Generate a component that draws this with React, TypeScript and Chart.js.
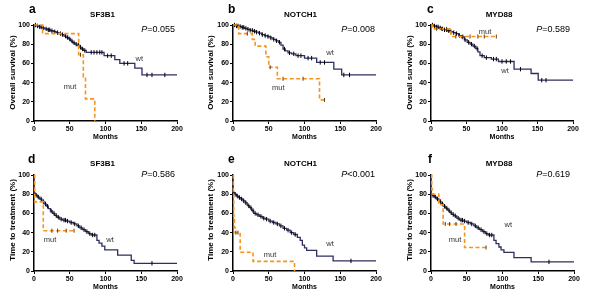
import React, { useEffect, useRef } from "react";
import { Chart, registerables } from "chart.js";
Chart.register(...registerables);

type KM = [number, number][];

const FONT = '"Liberation Sans", Arial, Helvetica, sans-serif';

const xTicks = [0, 50, 100, 150, 200];
const yTicks = [0, 20, 40, 60, 80, 100];

// ---- a: Overall survival, SF3B1 ----
const aWt: KM = [[0,100],[3,99],[7,98],[11,97],[15,96],[19,95],[23,94],[27,93],[31,92],[35,91],[39,90],[42,88.5],[45,87],[48,85.5],[51,83.5],[54,81.5],[57,80],[60,79],[63,77],[66,75],[69,73.5],[73,71.5],[98,68],[113,64],[120,60],[141,55],[151,48],[200,48]];
const aWtCensor = [2,5,8,10,13,17,20,22,25,29,33,37,40,44,47,50,53,56,59,62,65,68,71,80,84,88,92,95,103,108,126,131,158,165,183];
const aMut: KM = [[0,100],[12,91],[62.5,69],[69,46],[72,23],[85,0]];
const aMutCensor = [65];

// ---- b: Overall survival, NOTCH1 ----
const bWt: KM = [[0,100],[4,99],[8,98.5],[12,97.5],[16,96.5],[20,95.5],[24,94.5],[28,93.5],[32,92.5],[36,91.5],[40,90],[44,89],[48,88],[52,86.5],[56,85],[60,83.5],[64,82],[67,79],[70,75],[73,73],[77,71],[82,70],[88,68],[100,65.5],[117,61],[141,54],[152,48],[200,48]];
const bWtCensor = [2,5,7,10,13,15,18,21,24,27,30,33,37,41,45,49,53,57,61,65,72,79,85,91,95,105,110,122,128,155,163];
const bMut: KM = [[0,100],[8,91],[27,85],[31,78],[46,67],[50,56],[62,44],[121,22],[128,22]];
const bMutCensor = [20,52,70,98,128];

// ---- c: Overall survival, MYD88 ----
const cWt: KM = [[0,100],[3,99],[7,98],[11,97],[15,96],[19,95],[23,94],[27,93],[31,92],[35,91],[39,89],[43,87.5],[47,84.5],[51,82],[55,80],[59,78],[63,75.5],[66,72],[69,68],[75,66],[85,64.5],[95,62],[117,54],[141,49.5],[151,42.5],[200,42.5]];
const cWtCensor = [2,5,8,10,13,16,19,22,25,28,32,36,40,44,48,53,57,61,65,72,78,88,92,100,106,112,126,156,162];
const cMut: KM = [[0,100],[2,96],[28,88],[92,88]];
const cMutCensor = [8,15,22,35,45,55,66,75,92];

// ---- d: Time to treatment, SF3B1 ----
const dWt: KM = [[0,100],[0,81],[2,79],[5,77],[8,75],[11,72.5],[14,70],[17,67.5],[20,65],[23,62.5],[26,60],[29,58],[32,56],[36,54],[40,53],[45,52],[50,50.5],[55,49],[60,47],[64,45],[68,43],[72,41],[76,39],[80,37.5],[88,32],[91,29],[95,26],[99,22],[117,16.5],[136,11],[140,8],[200,8]];
const dWtCensor = [3,6,10,13,16,19,24,28,31,34,38,42,44,47,52,57,62,66,70,74,78,82,85,165];
const dMut: KM = [[0,100],[1,72],[13,42],[56,42]];
const dMutCensor = [25,33,45,56];

// ---- e: Time to treatment, NOTCH1 ----
const eWt: KM = [[0,100],[0,82],[2,80],[5,78],[8,76.5],[11,75],[14,73],[17,71],[20,68],[23,66],[26,63],[29,60],[33,58.5],[37,57],[41,55],[45,54],[50,52],[55,50.5],[60,49],[65,47],[70,44.5],[75,42.5],[80,40],[85,38],[90,35],[94,32],[97,27],[100,24],[103,21.5],[117,15.5],[140,10.5],[200,10.5]];
const eWtCensor = [3,6,9,12,15,18,22,25,28,31,35,39,43,47,52,57,62,67,72,77,82,87,165];
const eMut: KM = [[0,100],[0.5,81],[1,57],[2,45],[3,40],[10,19.5],[28,10],[86,0]];
const eMutCensor = [4,7];

// ---- f: Time to treatment, MYD88 ----
const fWt: KM = [[0,100],[0,80],[2,78.5],[5,77],[8,75],[11,72.5],[14,70],[17,67.5],[20,65.5],[23,63.5],[26,61],[29,59],[32,57.5],[36,55],[40,53],[45,52],[50,50.5],[55,49],[60,47],[64,45],[68,43],[72,41],[76,39],[80,37.5],[88,32],[91,28.5],[95,25],[98,22],[102,19.5],[116,14],[140,9.5],[200,9.5]];
const fWtCensor = [3,6,9,13,16,19,22,25,28,31,34,38,42,44,47,52,57,62,66,70,74,78,82,85,165];
const fMut: KM = [[0,100],[1,85],[2,80],[11,69],[17,49],[47,24.5],[77,24.5]];
const fMutCensor = [20,26,35,77];

const pValues = ["=0.055", "=0.008", "=0.589", "=0.586", "<0.001", "=0.619"];
const genes = ["SF3B1", "NOTCH1", "MYD88", "SF3B1", "NOTCH1", "MYD88"];
const letters = ["a", "b", "c", "d", "e", "f"];
const yTitles = ["Overall survival (%)", "Time to treatment (%)"];

interface Spec {
  idx: number;
  left: number; top: number; w: number; h: number;
  area: { l: number; r: number; t: number; b: number };
  wt: KM; wtC: number[]; mut: KM; mutC: number[];
  letterX: number; letterY: number;
  titleX: number; titleY: number;
  pX: number; pY: number;
  monthsY: number;
  yTitleX: number; yTitleY: number;
  wtLab: [number, number]; mutLab: [number, number];
}

const specs: Spec[] = [
  { idx: 0, left: 0, top: 0, w: 200, h: 150, area: { l: 34, r: 177, t: 25, b: 121 }, wt: aWt, wtC: aWtCensor, mut: aMut, mutC: aMutCensor,
    letterX: 29, letterY: 12.7, titleX: 102.5, titleY: 16.7, pX: 175, pY: 31.7, monthsY: 137, yTitleX: 12.7, yTitleY: 72.5, wtLab: [139.3, 59.3], mutLab: [70, 87.3] },
  { idx: 1, left: 200, top: 0, w: 200, h: 150, area: { l: 33, r: 176, t: 25, b: 121 }, wt: bWt, wtC: bWtCensor, mut: bMut, mutC: bMutCensor,
    letterX: 228, letterY: 12.7, titleX: 300.5, titleY: 16.7, pX: 375, pY: 31.7, monthsY: 137, yTitleX: 210.5, yTitleY: 72.5, wtLab: [330, 53.3], mutLab: [278.3, 88.3] },
  { idx: 2, left: 400, top: 0, w: 200, h: 150, area: { l: 31, r: 173, t: 25, b: 121 }, wt: cWt, wtC: cWtCensor, mut: cMut, mutC: cMutCensor,
    letterX: 427, letterY: 12.7, titleX: 499, titleY: 16.7, pX: 570, pY: 31.7, monthsY: 137, yTitleX: 410, yTitleY: 72.5, wtLab: [505, 71], mutLab: [485, 31.7] },
  { idx: 3, left: 0, top: 150, w: 200, h: 149, area: { l: 34, r: 177, t: 25, b: 121 }, wt: dWt, wtC: dWtCensor, mut: dMut, mutC: dMutCensor,
    letterX: 28, letterY: 162.7, titleX: 102.5, titleY: 166, pX: 175, pY: 176.7, monthsY: 286.7, yTitleX: 12.7, yTitleY: 220, wtLab: [110, 240], mutLab: [50, 240] },
  { idx: 4, left: 200, top: 150, w: 200, h: 149, area: { l: 33, r: 176, t: 25, b: 121 }, wt: eWt, wtC: eWtCensor, mut: eMut, mutC: eMutCensor,
    letterX: 228, letterY: 162.7, titleX: 300.5, titleY: 166, pX: 375, pY: 176.7, monthsY: 286.7, yTitleX: 210.5, yTitleY: 220, wtLab: [330, 244], mutLab: [270, 255] },
  { idx: 5, left: 400, top: 150, w: 200, h: 149, area: { l: 31, r: 174, t: 25, b: 121 }, wt: fWt, wtC: fWtCensor, mut: fMut, mutC: fMutCensor,
    letterX: 428, letterY: 162.7, titleX: 499, titleY: 166, pX: 570, pY: 176.7, monthsY: 286.7, yTitleX: 410, yTitleY: 220, wtLab: [508.3, 225], mutLab: [455, 240] },
];

function survAt(curve: KM, t: number): number {
  let y = curve[0][1];
  for (const [x, s] of curve) {
    if (x <= t) y = s; else break;
  }
  return y;
}

function makePlugin(s: Spec) {
  return {
    id: "panelText" + s.idx,
    afterDraw(chart: any) {
      const ctx = chart.ctx as CanvasRenderingContext2D;
      const ox = s.left, oy = s.top;
      const ca = chart.chartArea;
      ctx.save();
      ctx.fillStyle = "#000";
      ctx.textBaseline = "alphabetic";
      ctx.textAlign = "left";
      ctx.font = `bold 12px ${FONT}`;
      ctx.fillText(letters[s.idx], s.letterX - ox, s.letterY - oy);
      ctx.textAlign = "center";
      ctx.font = `bold 8px ${FONT}`;
      ctx.fillText(genes[s.idx], s.titleX - ox, s.titleY - oy);
      ctx.textAlign = "right";
      ctx.font = `9px ${FONT}`;
      const pv = pValues[s.idx];
      ctx.fillText(pv, s.pX - ox, s.pY - oy);
      const pw = ctx.measureText(pv).width;
      ctx.font = `italic 9px ${FONT}`;
      ctx.fillText("P", s.pX - ox - pw, s.pY - oy);
      ctx.textAlign = "center";
      ctx.textBaseline = "middle";
      ctx.font = `bold 7px ${FONT}`;
      ctx.fillText("Months", (ca.left + ca.right) / 2, s.monthsY - oy);
      ctx.save();
      ctx.translate(s.yTitleX - ox, s.yTitleY - oy);
      ctx.rotate(-Math.PI / 2);
      ctx.font = `bold 8px ${FONT}`;
      ctx.fillText(yTitles[s.idx < 3 ? 0 : 1], 0, 0);
      ctx.restore();
      ctx.font = `7.5px ${FONT}`;
      ctx.fillStyle = "#333";
      ctx.fillText("wt", s.wtLab[0] - ox, s.wtLab[1] - oy);
      ctx.fillText("mut", s.mutLab[0] - ox, s.mutLab[1] - oy);
      ctx.restore();
    },
  };
}

function buildChart(canvas: HTMLCanvasElement, s: Spec) {
  const wtLine = s.wt.map(([x, y]) => ({ x, y }));
  const mutLine = s.mut.map(([x, y]) => ({ x, y }));
  const wtMarks = s.wtC.map((t) => ({ x: t, y: survAt(s.wt, t) }));
  const mutMarks = s.mutC.map((t) => ({ x: t, y: survAt(s.mut, t) }));
  const tickFont = { family: FONT, size: 7, weight: "bold" as const };
  return new Chart(canvas, {
    type: "line",
    data: {
      datasets: [
        { data: mutMarks, showLine: false, pointStyle: "line", pointRotation: 90, pointRadius: 2, pointBorderWidth: 1, pointBorderColor: "#6b3a00", pointBackgroundColor: "#6b3a00", clip: false } as any,
        { data: mutLine, stepped: true, borderColor: "#f7941d", borderWidth: 1.6, borderDash: [4, 2.5], pointRadius: 0, fill: false, clip: false } as any,
        { data: wtMarks, showLine: false, pointStyle: "line", pointRotation: 90, pointRadius: 2.2, pointBorderWidth: 1, pointBorderColor: "#000", pointBackgroundColor: "#000", clip: false } as any,
        { data: wtLine, stepped: true, borderColor: "#2e2e60", borderWidth: 1.3, pointRadius: 0, fill: false, clip: false } as any,
      ],
    },
    options: {
      animation: false,
      responsive: false,
      devicePixelRatio: 1,
      parsing: false as any,
      layout: { padding: { left: s.area.l - 20, right: s.w - s.area.r, top: s.area.t, bottom: s.h - s.area.b - 20 } },
      plugins: { legend: { display: false }, tooltip: { enabled: false }, title: { display: false } },
      scales: {
        x: {
          type: "linear", min: 0, max: 200,
          ticks: { font: tickFont, color: "#000", padding: 1, maxRotation: 0, autoSkip: false },
          grid: { drawOnChartArea: false, drawTicks: true, tickLength: 3, color: "#000", lineWidth: 1 },
          border: { display: true, color: "#000", width: 1.5 },
          afterBuildTicks: (sc: any) => { sc.ticks = xTicks.map((v) => ({ value: v })); },
          afterFit: (sc: any) => { sc.height = 20; },
        } as any,
        y: {
          type: "linear", min: 0, max: 100,
          ticks: { font: tickFont, color: "#000", padding: 1, autoSkip: false },
          grid: { drawOnChartArea: false, drawTicks: true, tickLength: 3, color: "#000", lineWidth: 1 },
          border: { display: true, color: "#000", width: 1.5 },
          afterBuildTicks: (sc: any) => { sc.ticks = yTicks.map((v) => ({ value: v })); },
          afterFit: (sc: any) => { sc.width = 20; },
        } as any,
      },
    },
    plugins: [makePlugin(s)],
  });
}

export default function App() {
  const refs = useRef<(HTMLCanvasElement | null)[]>([]);
  useEffect(() => {
    const charts = specs.map((s, i) => buildChart(refs.current[i] as HTMLCanvasElement, s));
    return () => charts.forEach((c) => c.destroy());
  }, []);
  return (
    <div style={{ position: "absolute", left: 0, top: 0, width: 600, height: 299, background: "#fff", overflow: "hidden" }}>
      {specs.map((s, i) => (
        <canvas
          key={i}
          ref={(el) => { refs.current[i] = el; }}
          width={s.w}
          height={s.h}
          style={{ position: "absolute", left: s.left, top: s.top, width: s.w, height: s.h }}
        />
      ))}
    </div>
  );
}
